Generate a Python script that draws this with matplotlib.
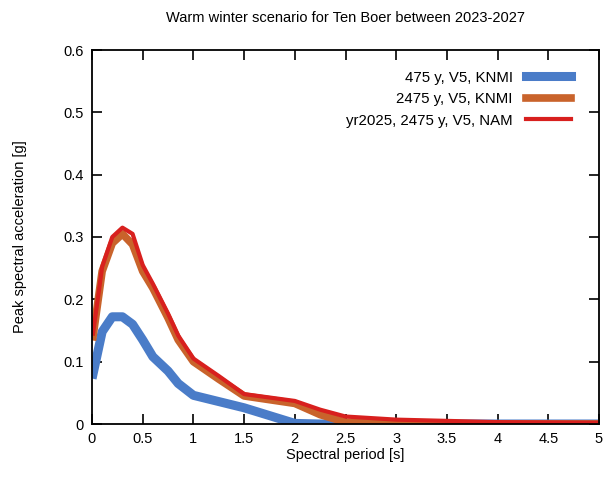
import numpy as np
import matplotlib
matplotlib.use('Agg')
from matplotlib import pyplot as plt

# Spectral periods [s] and peak spectral accelerations [g]
period = [0.01, 0.1, 0.2, 0.3, 0.4, 0.5, 0.6, 0.75, 0.85, 1.0, 1.25, 1.5,
          2.0, 2.25, 2.5, 3.0, 3.5, 4.0, 5.0]
psa_475_knmi = [0.080, 0.148, 0.172, 0.172, 0.160, 0.135, 0.108, 0.085, 0.065, 0.046,
                0.036, 0.026, 0.001, 0.0, 0.0, 0.0, 0.0, 0.0, 0.0]
psa_2475_knmi = [0.140, 0.245, 0.290, 0.305, 0.288, 0.245, 0.218, 0.170, 0.135, 0.100,
                 0.072, 0.045, 0.033, 0.015, 0.003, 0.0, 0.0, 0.0, 0.0]
psa_2475_nam = [0.145, 0.252, 0.300, 0.315, 0.305, 0.255, 0.225, 0.177, 0.142, 0.105,
                0.077, 0.048, 0.037, 0.023, 0.012, 0.007, 0.005, 0.003, 0.002]

labels = ['475 y, V5, KNMI', '2475 y, V5, KNMI', 'yr2025, 2475 y, V5, NAM']

plt.rcParams['font.family'] = ['Liberation Sans', 'DejaVu Sans']

fig = plt.figure(figsize=(6.08, 4.94), dpi=100)
ax = fig.add_axes([92 / 608, 1 - 424 / 494, (599 - 92) / 608, (424 - 50) / 494])

ax.plot(period, psa_475_knmi, color='#4a7cc8', lw=6.5, label=labels[0], solid_joinstyle='round')
ax.plot(period, psa_2475_knmi, color='#c9632b', lw=5.5, label=labels[1], solid_joinstyle='round')
ax.plot(period, psa_2475_nam, color='#d8201e', lw=3, label=labels[2], solid_joinstyle='round')

ax.set_xlim(0, 5)
ax.set_ylim(0, 0.6)
ax.set_xticks(np.arange(0, 5.01, 0.5))
ax.set_xticklabels(['0', '0.5', '1', '1.5', '2', '2.5', '3', '3.5', '4', '4.5', '5'])
ax.set_yticks(np.arange(0, 0.61, 0.1))
ax.set_yticklabels(['0', '0.1', '0.2', '0.3', '0.4', '0.5', '0.6'])
ax.tick_params(direction='in', top=True, right=True, length=7, width=1.2,
               labelsize=10.5, pad=6)
for s in ax.spines.values():
    s.set_linewidth(1.3)

ax.set_xlabel('Spectral period [s]', fontsize=10.5, labelpad=1)
ax.set_ylabel('Peak spectral acceleration [g]', fontsize=10.5, labelpad=26)
ax.set_title('Warm winter scenario for Ten Boer between 2023-2027', fontsize=10.5, pad=20)

leg = ax.legend(loc='upper right', bbox_to_anchor=(0.975, 0.985), frameon=False,
                markerfirst=False, fontsize=10.8, handlelength=3.0, handletextpad=0.9,
                labelspacing=0.5, borderaxespad=0.6)

fig.savefig('out.png', dpi=100)
